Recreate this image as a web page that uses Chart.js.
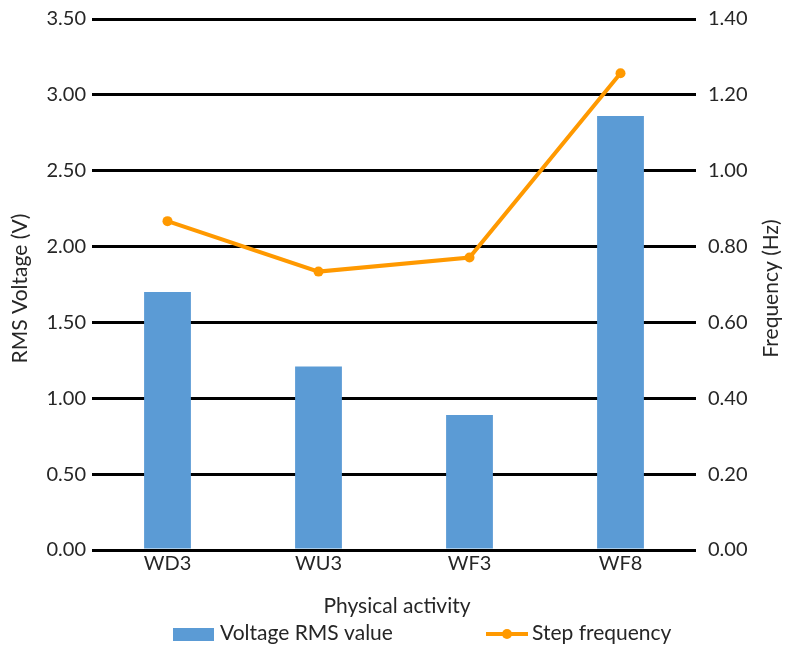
<!DOCTYPE html>
<html>
<head>
<meta charset="utf-8">
<script src="https://cdn.jsdelivr.net/npm/chart.js@4.4.1/dist/chart.umd.min.js"></script>
<style>
    html, body { margin: 0; padding: 0; background: #fff; }
    #wrap { width: 792px; height: 652px; }
</style>
</head>
<body>
<div id="wrap"><canvas id="chart" width="792" height="652"></canvas></div>
<script>
// --- DATA ---
const categories = ['WD3', 'WU3', 'WF3', 'WF8'];
const rmsVoltage = [1.70, 1.21, 0.89, 2.86];       // left axis (V)
const stepFrequency = [0.867, 0.734, 0.771, 1.257]; // right axis (Hz)
const voltageTicks = [0, 0.5, 1, 1.5, 2, 2.5, 3, 3.5];
const frequencyTicks = [0, 0.2, 0.4, 0.6, 0.8, 1.0, 1.2, 1.4];

const barLabel = 'Voltage RMS value';
const lineLabel = 'Step frequency';
const xTitle = 'Physical activity';
const yLeftTitle = 'RMS Voltage (V)';
const yRightTitle = 'Frequency (Hz)';

const FONT = 'Lato, "Open Sans", sans-serif';
const TEXT = '#262626';
const BLUE = '#5B9BD5';
const ORANGE = '#FF9900';

// --- titles and legend drawn by hand (Excel style) ---
const decorations = {
    id: 'decorations',
    afterDraw(chart) {
        const ctx = chart.ctx;
        const area = chart.chartArea;
        const midY = (area.top + area.bottom) / 2 + 4;
        ctx.save();
        ctx.fillStyle = TEXT;
        ctx.font = '21px ' + FONT;
        ctx.textAlign = 'center';
        ctx.textBaseline = 'middle';

        // axis titles, both read bottom-to-top
        [[20, yLeftTitle], [771, yRightTitle]].forEach(([x, txt]) => {
            ctx.save();
            ctx.translate(x, midY);
            ctx.rotate(-Math.PI / 2);
            ctx.fillText(txt, 0, 0);
            ctx.restore();
        });

        ctx.textBaseline = 'alphabetic';
        ctx.fillText(xTitle, 397, 613);

        // legend
        ctx.textAlign = 'left';
        ctx.fillStyle = BLUE;
        ctx.fillRect(173, 628, 41, 13);
        ctx.fillStyle = TEXT;
        ctx.fillText(barLabel, 220, 640);

        ctx.strokeStyle = ORANGE;
        ctx.lineWidth = 4;
        ctx.beginPath();
        ctx.moveTo(486, 634);
        ctx.lineTo(528, 634);
        ctx.stroke();
        ctx.fillStyle = ORANGE;
        ctx.beginPath();
        ctx.arc(507, 634, 5, 0, Math.PI * 2);
        ctx.fill();
        ctx.fillStyle = TEXT;
        ctx.fillText(lineLabel, 532, 640);
        ctx.restore();
    }
};

const fitY = (width) => (s) => {
    s.width = width;
    s.paddingTop = 0;
    s.paddingBottom = 0;
};

new Chart(document.getElementById('chart'), {
    data: {
        labels: categories,
        datasets: [
            {
                type: 'line',
                label: lineLabel,
                data: stepFrequency,
                yAxisID: 'yFreq',
                borderColor: ORANGE,
                backgroundColor: ORANGE,
                borderWidth: 4,
                pointRadius: 5,
                pointBorderWidth: 0,
                tension: 0,
                order: 0
            },
            {
                type: 'bar',
                label: barLabel,
                data: rmsVoltage,
                yAxisID: 'yVolt',
                backgroundColor: BLUE,
                borderWidth: 0,
                barPercentage: 0.31,
                categoryPercentage: 1.0,
                order: 1
            }
        ]
    },
    options: {
        responsive: false,
        animation: false,
        layout: { padding: { top: 19, left: 0, right: 0, bottom: 0 } },
        plugins: {
            legend: { display: false },
            tooltip: { enabled: false }
        },
        scales: {
            x: {
                grid: { display: false },
                border: { display: false },
                ticks: { color: TEXT, font: { family: FONT, size: 20 }, padding: -6 },
                afterFit: (s) => { s.height = 102; }
            },
            yVolt: {
                position: 'left',
                min: 0, max: 3.5,
                afterBuildTicks: (s) => { s.ticks = voltageTicks.map(v => ({ value: v })); },
                grid: { color: '#000', lineWidth: 3, drawTicks: false },
                border: { display: false },
                ticks: {
                    color: TEXT, font: { family: FONT, size: 20 }, padding: 6,
                    callback: (v) => Number(v).toFixed(2)
                },
                afterFit: fitY(92)
            },
            yFreq: {
                position: 'right',
                min: 0, max: 1.4,
                afterBuildTicks: (s) => { s.ticks = frequencyTicks.map(v => ({ value: v })); },
                grid: { display: false, drawTicks: false },
                border: { display: false },
                ticks: {
                    color: TEXT, font: { family: FONT, size: 20 }, padding: 12,
                    callback: (v) => Number(v).toFixed(2)
                },
                afterFit: fitY(96)
            }
        }
    },
    plugins: [decorations]
});
</script>
</body>
</html>
